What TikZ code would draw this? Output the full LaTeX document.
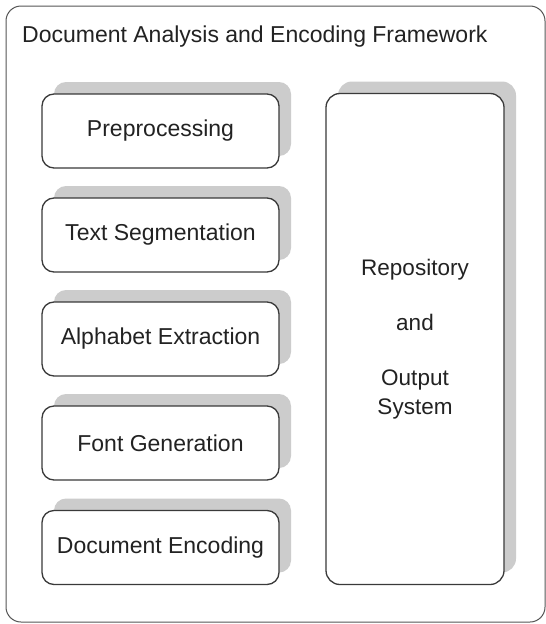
\documentclass[tikz,border=0pt]{standalone}
\usepackage{fontspec}
\setmainfont{Liberation Sans}
\usetikzlibrary{shadows}
\definecolor{shadowgray}{HTML}{CCCCCC}
\definecolor{boxline}{HTML}{3A3A3A}
\definecolor{frameline}{HTML}{555555}
\definecolor{txt}{HTML}{222222}
\begin{document}
\begin{tikzpicture}[x=1pt,y=-1pt,
  stagebox/.style={draw=boxline, line width=1.3pt, fill=white, rounded corners=12pt,
    minimum width=237pt, minimum height=74pt, inner sep=0pt, text=txt,
    font=\fontsize{23}{28}\selectfont,
    drop shadow={shadow xshift=12pt, shadow yshift=12pt, fill=shadowgray, opacity=1}},
  repobox/.style={draw=boxline, line width=1.3pt, fill=white, rounded corners=14pt,
    minimum width=178pt, minimum height=491pt, inner sep=0pt, text=txt, align=center,
    font=\fontsize{22.5}{29}\selectfont,
    drop shadow={shadow xshift=12pt, shadow yshift=12pt, fill=shadowgray, opacity=1}},
  framebox/.style={draw=frameline, line width=1pt, fill=white, rounded corners=15pt,
    minimum width=539pt, minimum height=616pt, inner sep=0pt},
  titletext/.style={text=txt, font=\fontsize{23}{27}\selectfont, inner sep=0pt, anchor=base west}
]
\useasboundingbox (0,0) rectangle (546,624);
\fill[white] (0,0) rectangle (546,624);
\node[framebox] (frame) at (275.5,314) {};
\node[titletext] (title) at (22,42.5) {Document Analysis and Encoding Framework};
\node[stagebox] (pre) at (160.5,131) {Preprocessing};
\node[stagebox] (seg) at (160.5,235) {Text Segmentation};
\node[stagebox] (alpha) at (160.5,339) {Alphabet Extraction};
\node[stagebox] (font) at (160.5,443) {Font Generation};
\node[stagebox] (enc) at (160.5,547.5) {Document Encoding};
\node[repobox] (repo) at (415,339) {Repository\\[26pt]and\\[26pt]Output\\System};
\end{tikzpicture}
\end{document}
